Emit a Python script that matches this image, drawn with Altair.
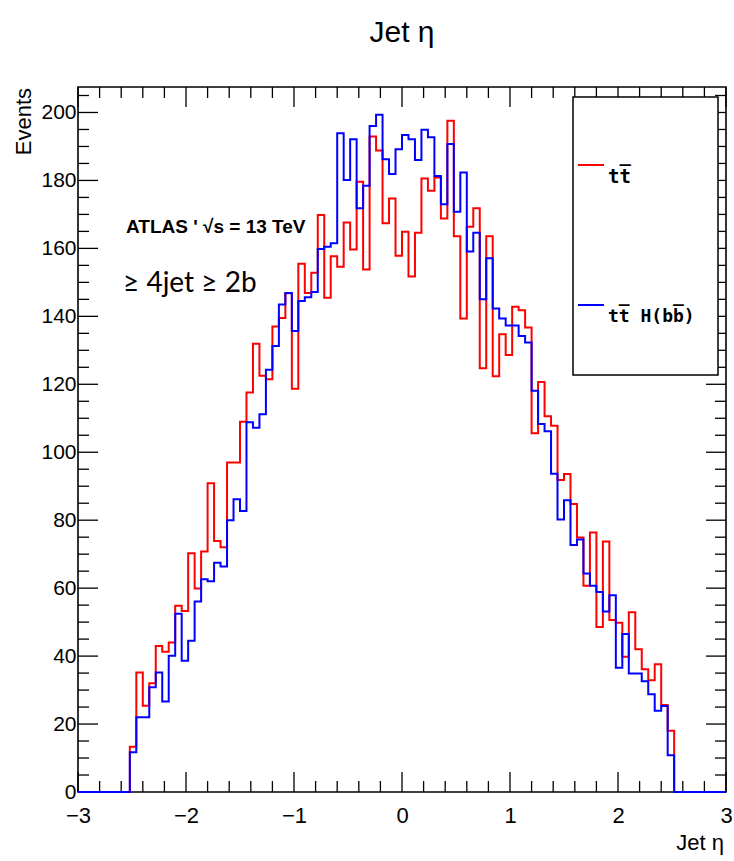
import altair as alt
import numpy as np
import pandas as pd

# ---------------- data ----------------
BIN_START = -2.52
BIN_WIDTH = 0.06

tt_red = [13.3, 35.2, 25.4, 32.0, 43.0, 41.3, 44.0, 54.8, 53.3, 70.3,
          59.9, 70.8, 90.9, 73.9, 72.0, 97.0, 97.0, 109.0, 117.6, 131.9,
          122.5, 121.5, 137.0, 139.5, 146.8, 118.7, 155.5, 146.9, 152.8, 169.8,
          145.5, 157.7, 154.6, 167.6, 159.7, 179.6, 153.8, 192.9, 188.8, 167.4,
          174.7, 157.8, 164.9, 151.7, 164.6, 180.6, 177.0, 180.9, 168.8, 197.6,
          163.6, 139.4, 166.4, 171.8, 124.7, 163.6, 122.4, 134.7, 128.6, 142.8,
          141.8, 136.7, 105.6, 120.7, 110.6, 107.8, 91.8, 93.6, 84.8, 74.9,
          60.7, 76.4, 48.6, 73.7, 50.6, 49.8, 39.8, 52.9, 42.0, 36.1,
          32.9, 37.6, 25.6, 18.0]

tth_blue = [11.7, 22.0, 22.0, 30.8, 35.2, 26.6, 40.1, 52.5, 38.6, 44.5,
            56.1, 62.6, 62.0, 67.5, 66.4, 80.0, 86.2, 82.7, 108.8, 107.2,
            111.2, 124.3, 131.3, 143.5, 146.9, 135.7, 144.5, 145.6, 147.2, 159.8,
            160.5, 161.5, 193.9, 180.1, 192.1, 171.8, 178.4, 196.0, 199.3, 186.2,
            181.9, 189.2, 193.4, 192.1, 186.0, 194.9, 192.7, 181.3, 173.0, 190.7,
            170.8, 182.3, 159.1, 164.6, 145.0, 157.1, 142.3, 139.4, 137.3, 137.3,
            134.2, 132.3, 118.1, 108.3, 106.2, 93.7, 80.2, 85.9, 72.7, 74.3,
            64.3, 60.7, 58.9, 53.1, 57.9, 36.6, 46.5, 34.9, 34.9, 32.6,
            28.8, 23.9, 25.3, 10.8]

x_label_values = [-3, -2, -1, 0, 1, 2, 3]
y_label_values = [0, 20, 40, 60, 80, 100, 120, 140, 160, 180, 200]
x_major_ticks = [-3, -2, -1, 0, 1, 2, 3]
x_minor_ticks = [round(-3 + 0.2 * i, 2) for i in range(31) if i % 5 != 0]
y_major_ticks = y_label_values
y_minor_ticks = [5 * i for i in range(42) if i % 4 != 0]

# ---------------- layout / style ----------------
W, H = 648, 705
PAD = {"left": 78, "top": 87, "right": 8, "bottom": 69}
MAJ, MIN = 20, 11
NARROW = "Liberation Sans Narrow, Liberation Sans, sans-serif"

xs = alt.Scale(domain=[-3, 3], nice=False, zero=False)
ys = alt.Scale(domain=[0, 207.5], nice=False, zero=False)

xaxis = alt.Axis(values=x_label_values, ticks=False, domain=False, grid=False,
                 title=None, labelFont=NARROW, labelFontSize=22, labelPadding=13,
                 labelFlush=False, labelOverlap=False, labelBound=False,
                 labelColor="black",
                 labelExpr="replace(datum.label, '-', '\u2212')")
yaxis = alt.Axis(values=y_label_values, ticks=False, domain=False, grid=False,
                 title=None, labelFont=NARROW, labelFontSize=21, labelPadding=2,
                 labelFlush=False, labelOverlap=False, labelBound=False,
                 labelColor="black")


def step_frame(vals):
    n = len(vals)
    xs_ = [-3.0] + [BIN_START + BIN_WIDTH * i for i in range(n)] + [BIN_START + BIN_WIDTH * n, 3.0]
    ys_ = [0.0] + list(vals) + [0.0, 0.0]
    return pd.DataFrame({"eta": xs_, "events": ys_, "i": range(len(xs_))})


def hist(vals, color):
    return alt.Chart(step_frame(vals)).mark_line(
        color=color, strokeWidth=2, interpolate="step-after"
    ).encode(
        x=alt.X("eta:Q", scale=xs, axis=xaxis),
        y=alt.Y("events:Q", scale=ys, axis=yaxis),
        order="i:Q",
    )


def xticks(vals, length):
    df = pd.DataFrame({"eta": vals})
    bottom = alt.Chart(df).mark_rule(color="black", strokeWidth=1.3).encode(
        x=alt.X("eta:Q", scale=xs, axis=xaxis), y=alt.value(H), y2=alt.value(H - length))
    top = alt.Chart(df).mark_rule(color="black", strokeWidth=1.3).encode(
        x=alt.X("eta:Q", scale=xs, axis=xaxis), y=alt.value(0), y2=alt.value(length))
    return [bottom, top]


def yticks(vals, length):
    df = pd.DataFrame({"events": vals})
    left = alt.Chart(df).mark_rule(color="black", strokeWidth=1.3).encode(
        y=alt.Y("events:Q", scale=ys, axis=yaxis), x=alt.value(0), x2=alt.value(length))
    right = alt.Chart(df).mark_rule(color="black", strokeWidth=1.3).encode(
        y=alt.Y("events:Q", scale=ys, axis=yaxis), x=alt.value(W), x2=alt.value(W - length))
    return [left, right]


one = pd.DataFrame({"a": [0]})


def ann(text, x, y, **kw):
    return alt.Chart(one).mark_text(text=text, color="black", **kw).encode(
        x=alt.value(x), y=alt.value(y))


legend_box = alt.Chart(one).mark_rect(fill="white", stroke="black", strokeWidth=1.5).encode(
    x=alt.value(495), x2=alt.value(640), y=alt.value(10), y2=alt.value(288))
leg_red = alt.Chart(one).mark_rule(color="#ff0000", strokeWidth=2).encode(
    x=alt.value(500), x2=alt.value(526), y=alt.value(78))
leg_blue = alt.Chart(one).mark_rule(color="#0000ff", strokeWidth=2).encode(
    x=alt.value(500), x2=alt.value(526), y=alt.value(218))

layers = (
    xticks(x_major_ticks, MAJ) + xticks(x_minor_ticks, MIN)
    + yticks(y_major_ticks, MAJ) + yticks(y_minor_ticks, MIN)
    + [hist(tt_red, "#ff0000"), hist(tth_blue, "#0000ff"),
       legend_box, leg_red, leg_blue,
       ann("tt\u0305", 530, 96, font="DejaVu Sans Mono", fontSize=19,
           fontWeight="bold", align="left", baseline="alphabetic"),
       ann("tt\u0305 H(bb\u0305)", 530, 235, font="DejaVu Sans Mono", fontSize=18,
           fontWeight="bold", align="left", baseline="alphabetic"),
       ann("ATLAS ' \u221As = 13 TeV", 48, 146, font=NARROW, fontSize=19,
           fontWeight="bold", align="left", baseline="alphabetic"),
       ann("\u2265 4jet \u2265 2b", 45, 205, font="Lato, Open Sans, sans-serif",
           fontSize=28, align="left", baseline="alphabetic"),
       ann("Jet \u03b7", 324, -45, font=NARROW, fontSize=30,
           align="center", baseline="alphabetic"),
       ann("Jet \u03b7", 646, 763, font=NARROW, fontSize=22,
           align="right", baseline="alphabetic"),
       ann("Events", -54, 1, font=NARROW, fontSize=22, angle=270,
           align="right", baseline="middle")]
)

chart = alt.layer(*layers).properties(
    width=W, height=H,
    padding=PAD,
    autosize=alt.AutoSizeParams(type="none"),
    background="white",
).configure_view(stroke="black", strokeWidth=1.6)

chart.save("out.html", embed_options={"renderer": "svg", "actions": False})
